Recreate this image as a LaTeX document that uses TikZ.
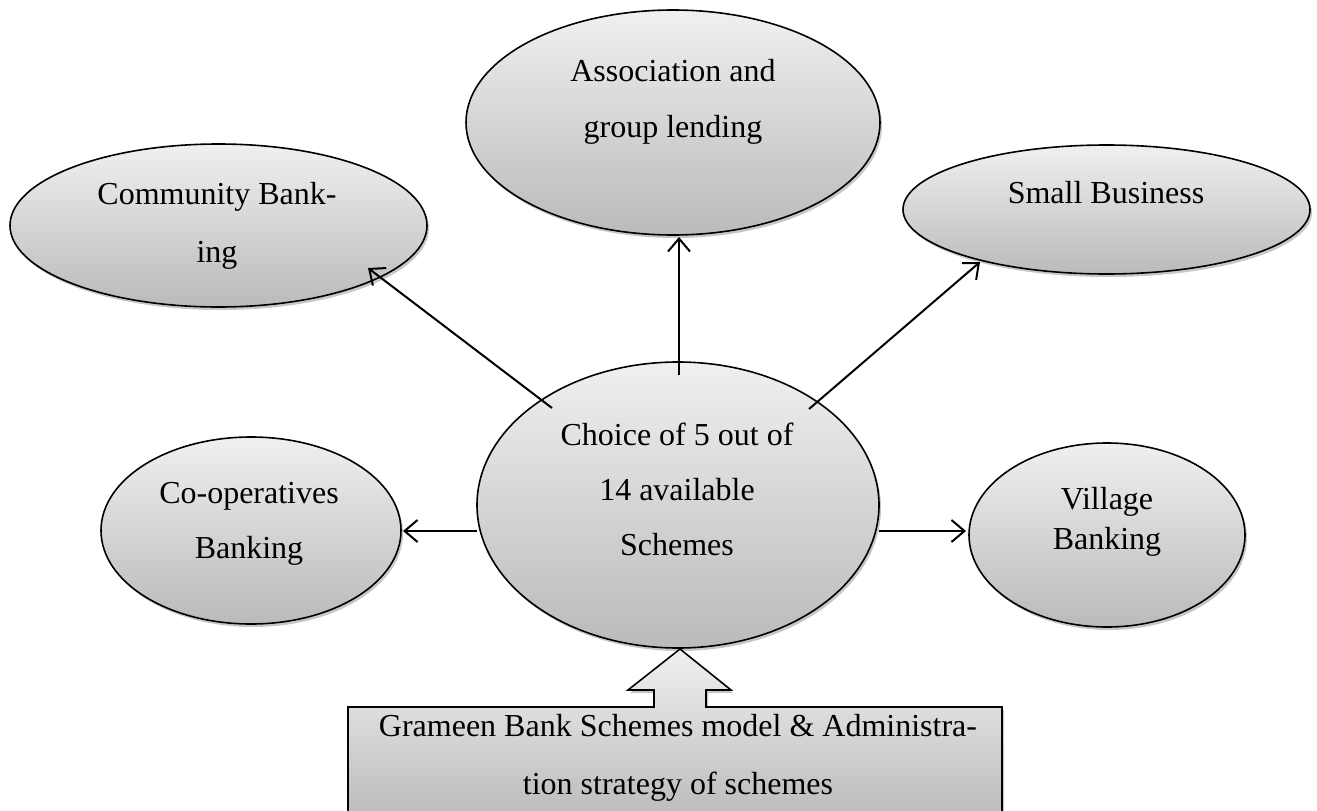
\documentclass[tikz,border=0pt]{standalone}
\usepackage{fontspec}
\setmainfont{Liberation Serif}
\usetikzlibrary{shapes.geometric,arrows.meta,shadows}

\tikzset{
  bubble/.style={ellipse, draw=black, line width=1.6pt, inner sep=0pt,
    top color=black!6, bottom color=black!27,
    drop shadow={shadow xshift=2pt, shadow yshift=-3pt, fill=black, opacity=0.22}},
  txt/.style={align=center, inner sep=0pt, font=\fontsize{32}{55}\selectfont},
  link/.style={line width=2pt, -{Straight Barb[length=13pt,width=22pt,line width=2pt]}},
  callout/.style={draw=black, line width=1.6pt, line join=miter,
    top color=black!6, bottom color=black!26,
    drop shadow={shadow xshift=2pt, shadow yshift=-3pt, fill=black, opacity=0.22}}
}

\begin{document}
\begin{tikzpicture}[x=1pt, y=-1pt]
  \useasboundingbox (0,0) rectangle (1317,811);
  \clip (0,0) rectangle (1317,811);

  % outer bubbles
  \node[bubble, minimum width=414pt, minimum height=225pt] (assoc)   at (673,122.5) {};
  \node[bubble, minimum width=417pt, minimum height=163pt] (comm)    at (218.5,225.5) {};
  \node[bubble, minimum width=407pt, minimum height=129pt] (small)   at (1106.5,209.5) {};
  \node[bubble, minimum width=300pt, minimum height=187pt] (coop)    at (251,530.5) {};
  \node[bubble, minimum width=276pt, minimum height=184pt] (village) at (1107,535) {};

  % central bubble
  \node[bubble, minimum width=402pt, minimum height=286pt] (hub) at (678,505) {};

  % bottom box with upward pointer
  \path[callout] (348,813) -- (348,707) -- (654,707) -- (654,690) -- (628,690)
        -- (680,649) -- (731,690) -- (706,690) -- (706,707) -- (1002,707)
        -- (1002,813) -- cycle;

  % texts
  \node[txt, font=\fontsize{32}{56}\selectfont] (tAssoc) at (673,102) {Association and\\group lending};
  \node[txt, font=\fontsize{32}{58}\selectfont] (tComm) at (217,226) {Community Bank-\\ing};
  \node[txt] (tSmall) at (1106,193) {Small Business};
  \node[txt] (tHub) at (677,489) {Choice of 5 out of\\14 available\\Schemes};
  \node[txt] (tCoop) at (249,524) {Co-operatives\\Banking};
  \node[txt, font=\fontsize{32}{40}\selectfont] (tVillage) at (1107,522) {Village\\Banking};
  \node[txt, font=\fontsize{32}{58}\selectfont] (tBox) at (678,758)
    {Grameen Bank Schemes model \& Administra-\\tion strategy of schemes};

  % connector end points
  \coordinate (sUp)    at (679,375);
  \coordinate (eUp)    at (679,237);
  \coordinate (sLeftU) at (552,408);
  \coordinate (eLeftU) at (368,268);
  \coordinate (sRightU) at (809,409);
  \coordinate (eRightU) at (980,262);
  \coordinate (sLeft)  at (477,531);
  \coordinate (eLeft)  at (403,531);
  \coordinate (sRight) at (879,531);
  \coordinate (eRight) at (966,531);

  % connectors
  \draw[link] (sUp) -- (eUp);
  \draw[link] (sLeftU) -- (eLeftU);
  \draw[link] (sRightU) -- (eRightU);
  \draw[link] (sLeft) -- (eLeft);
  \draw[link] (sRight) -- (eRight);
\end{tikzpicture}
\end{document}
